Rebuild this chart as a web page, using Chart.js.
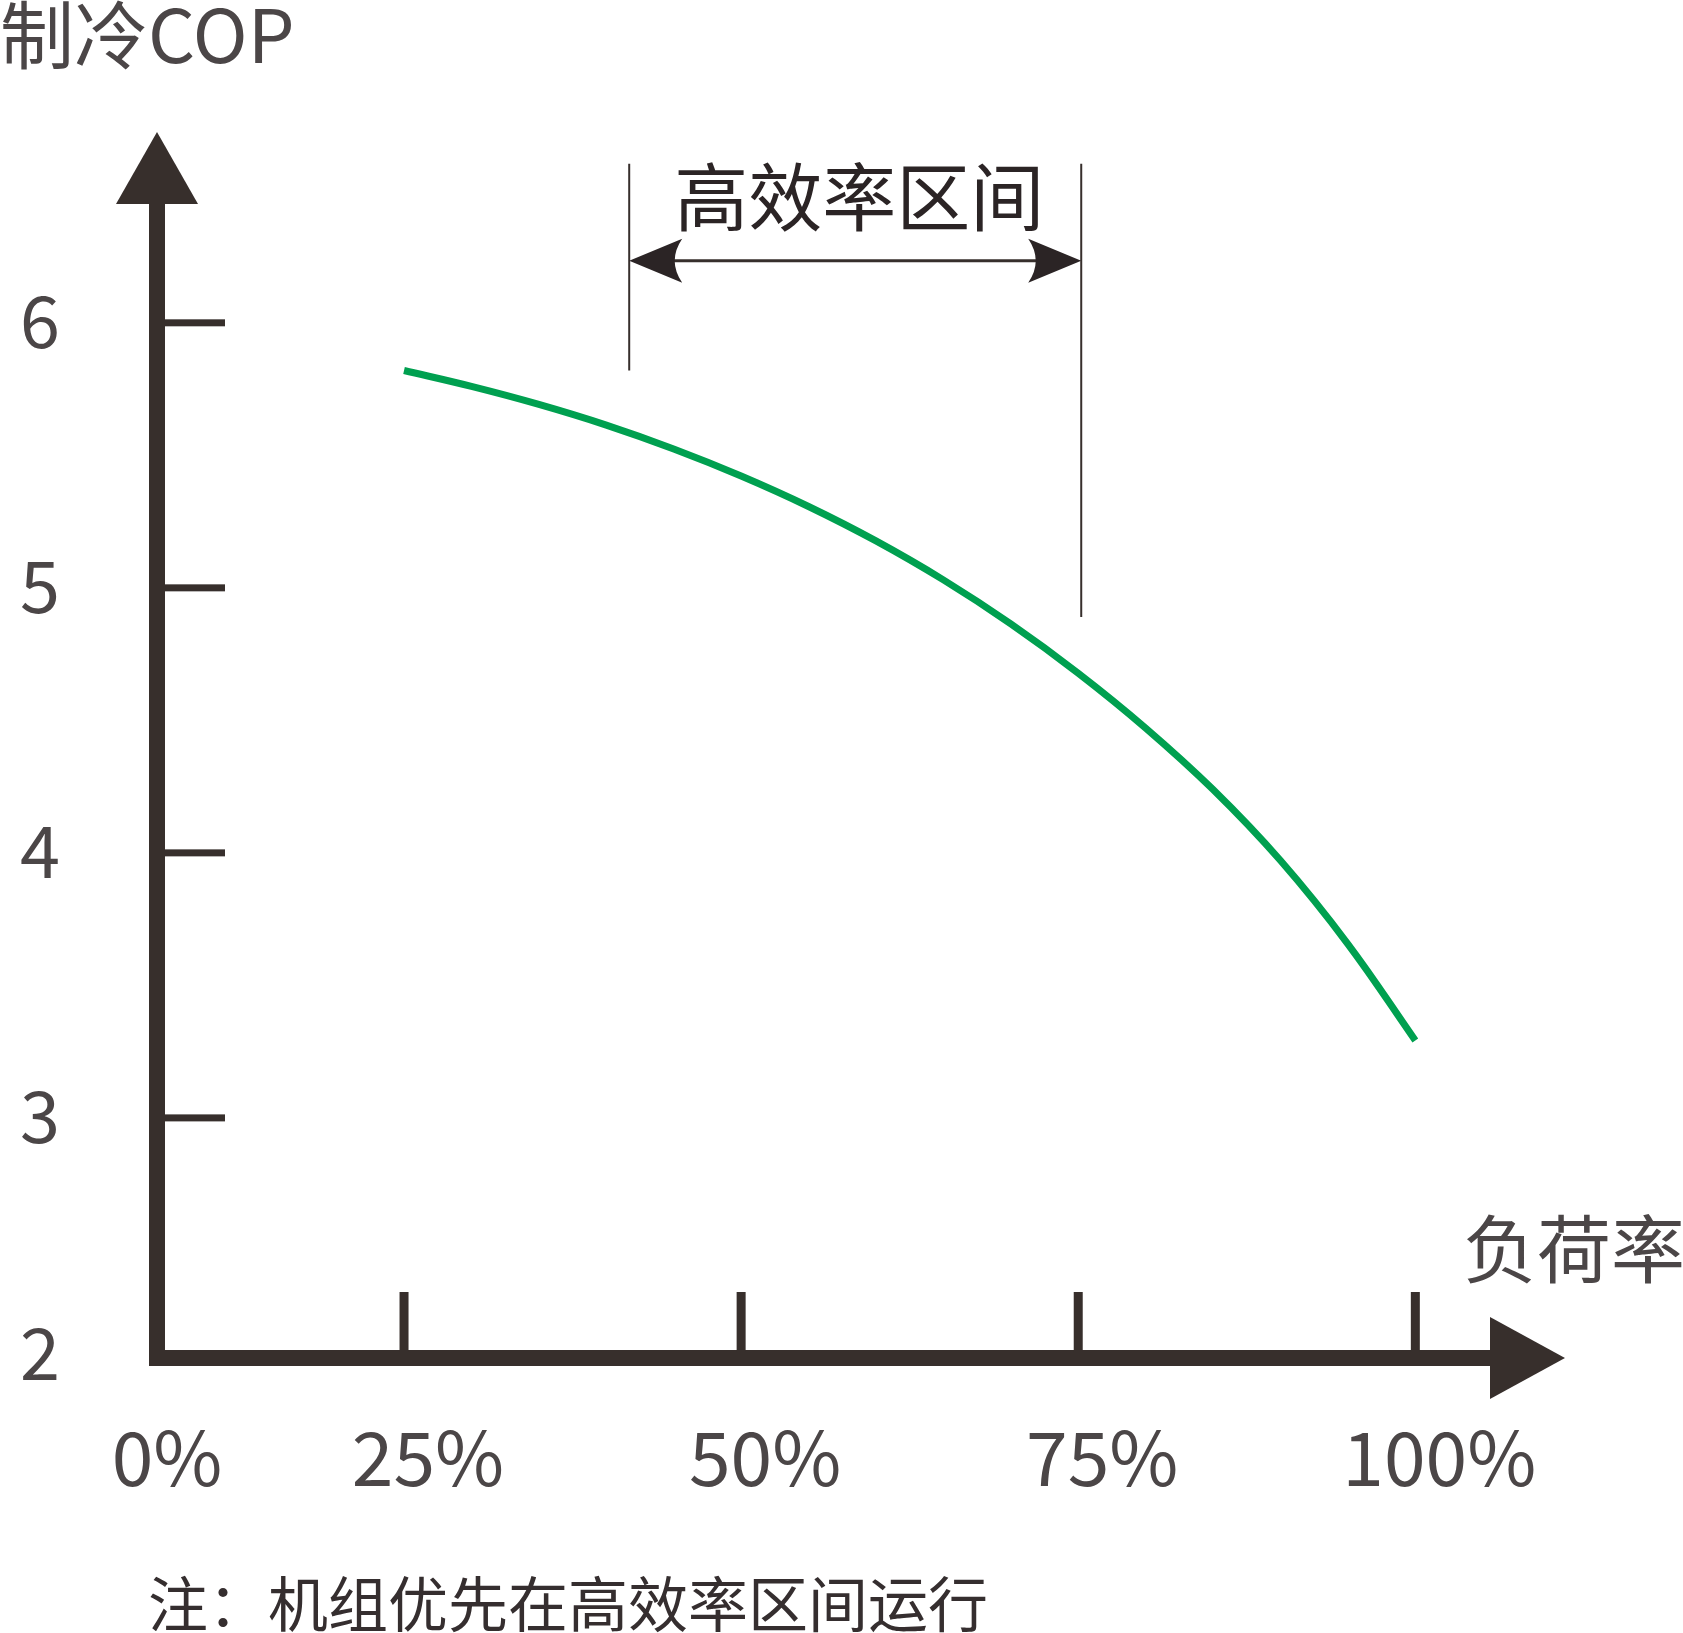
<!DOCTYPE html>
<html>
<head>
<meta charset="utf-8">
<script src="https://cdn.jsdelivr.net/npm/chart.js@4/dist/chart.umd.min.js"></script>
<style>
  html, body { margin: 0; background: #fff; }
  canvas { display: block; }
</style>
</head>
<body>
<canvas id="cop-chart" width="1683" height="1633"></canvas>
<script>
// 负荷率 (%) and 制冷COP
const loadRate = [25, 30, 35, 40, 45, 50, 55, 60, 65, 70, 75, 80, 85, 90, 95, 100];
const copValues = [5.82, 5.76, 5.692, 5.614, 5.524, 5.422, 5.307, 5.177, 5.03, 4.864, 4.678, 4.471, 4.239, 3.971, 3.656, 3.292];

const xTicks = [0, 25, 50, 75, 100];
const xTickLabels = ["0%", "25%", "50%", "75%", "100%"];
const yTicks = [2, 3, 4, 5, 6];
const yTickLabels = ["2", "3", "4", "5", "6"];

// high efficiency zone, in load rate %
const zoneRange = [41.7, 75];
const zoneLabel = "高效率区间";

const ink = "#372f2c";
const grey = "#4b4647";
const cjk = '"Noto Sans CJK SC", "Noto Sans", sans-serif';

function tri(ctx, pts) {
  ctx.beginPath();
  ctx.moveTo(pts[0][0], pts[0][1]);
  ctx.lineTo(pts[1][0], pts[1][1]);
  ctx.lineTo(pts[2][0], pts[2][1]);
  ctx.closePath();
  ctx.fill();
}

// axes with arrows, inner ticks, labels and the zone bracket
const axesPlugin = {
  id: "axes",
  beforeDatasetsDraw(chart) {
    const { ctx, chartArea: a, scales: { x, y } } = chart;
    const ox = a.left, oy = a.bottom;
    ctx.save();
    ctx.fillStyle = ink;

    // y axis
    ctx.fillRect(ox - 8, a.top + 70, 16, oy - a.top - 62);
    tri(ctx, [[ox, a.top], [ox - 41, a.top + 72], [ox + 41, a.top + 72]]);
    // x axis
    ctx.fillRect(ox - 8, oy - 8, a.right - 74 - ox + 8, 16);
    tri(ctx, [[a.right, oy], [a.right - 75, oy - 41], [a.right - 75, oy + 41]]);

    // tick marks (inside)
    yTicks.forEach((v) => {
      if (v <= y.min) return;
      const py = y.getPixelForValue(v);
      ctx.fillRect(ox + 8, py - 3.5, 60, 7);
    });
    xTicks.forEach((v) => {
      if (v <= x.min) return;
      const px = x.getPixelForValue(v);
      ctx.fillRect(px - 4.5, oy - 66, 9, 60);
    });

    // tick labels, the lowest sits on the axis break
    ctx.fillStyle = grey;
    ctx.textAlign = "center";
    ctx.textBaseline = "middle";
    ctx.font = "72px " + cjk;
    yTicks.forEach((v, i) => {
      const py = y.getPixelForValue(Math.max(v, y.min));
      ctx.fillText(yTickLabels[i], 40, v <= y.min ? py - 5 : py - 2);
    });
    ctx.font = "75px " + cjk;
    xTicks.forEach((v, i) => {
      const px = v <= x.min ? ox + 10 : x.getPixelForValue(v) + 24;
      ctx.fillText(xTickLabels[i], px, oy + 99);
    });

    // axis titles
    ctx.font = "74px " + cjk;
    ctx.textAlign = "left";
    ctx.fillText("制冷COP", 0, 35);
    ctx.font = "74px " + cjk;
    ctx.textAlign = "center";
    ctx.fillText("负荷率", 1574, 1249);

    // note
    ctx.fillStyle = "#352e2f";
    ctx.textAlign = "left";
    ctx.font = "60px " + cjk;
    ctx.fillText("注：机组优先在高效率区间运行", 148, 1604);

    // zone bracket
    const zl = x.getPixelForValue(zoneRange[0]);
    const zr = x.getPixelForValue(zoneRange[1]) + 3;
    const top = y.getPixelForValue(6.6);
    const arrowY = y.getPixelForValue(6.234);
    ctx.strokeStyle = ink;
    ctx.lineWidth = 2;
    ctx.beginPath();
    ctx.moveTo(zl, top);
    ctx.lineTo(zl, y.getPixelForValue(5.82));
    ctx.moveTo(zr, top);
    ctx.lineTo(zr, y.getPixelForValue(4.89));
    ctx.stroke();
    ctx.lineWidth = 3;
    ctx.beginPath();
    ctx.moveTo(zl + 40, arrowY);
    ctx.lineTo(zr - 40, arrowY);
    ctx.stroke();
    ctx.fillStyle = "#2b2425";
    [[zl, 1], [zr, -1]].forEach(([tx, d]) => {
      ctx.beginPath();
      ctx.moveTo(tx, arrowY);
      ctx.lineTo(tx + d * 53, arrowY - 22);
      ctx.quadraticCurveTo(tx + d * 38, arrowY, tx + d * 53, arrowY + 22);
      ctx.closePath();
      ctx.fill();
    });
    ctx.fillStyle = "#2b2425";
    ctx.font = "74px " + cjk;
    ctx.textAlign = "center";
    ctx.fillText(zoneLabel, (zl + zr) / 2 + 4, y.getPixelForValue(6.475));

    ctx.restore();
  },
};

new Chart(document.getElementById("cop-chart"), {
  type: "line",
  data: {
    datasets: [
      {
        label: "制冷COP",
        data: loadRate.map((v, i) => ({ x: v, y: copValues[i] })),
        borderColor: "#00a050",
        borderWidth: 7,
        pointRadius: 0,
        tension: 0.4,
        fill: false,
        clip: false,
      },
    ],
  },
  options: {
    responsive: false,
    animation: false,
    layout: { padding: { left: 157, right: 118, top: 132, bottom: 275 } },
    plugins: { legend: { display: false }, tooltip: { enabled: false } },
    scales: {
      x: { type: "linear", min: 6.68, max: 111.1, display: false },
      y: { min: 2.094, max: 6.72, display: false },
    },
  },
  plugins: [axesPlugin],
});
</script>
</body>
</html>
